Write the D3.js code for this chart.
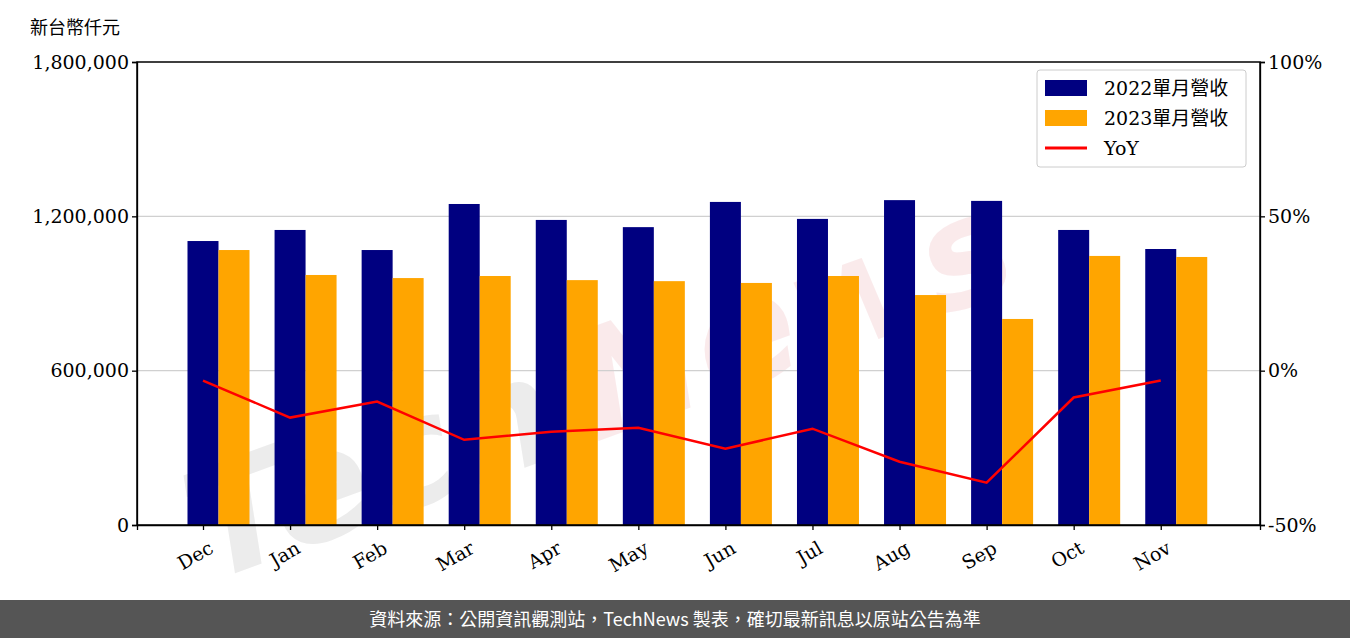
<!DOCTYPE html><html><head><meta charset="utf-8">
<script src="https://cdn.jsdelivr.net/npm/d3@7"></script>
<style>body{margin:0;background:#fff}</style></head><body>
<svg id="c" width="1350" height="638"></svg>
<script>
const months=["Dec","Jan","Feb","Mar","Apr","May","Jun","Jul","Aug","Sep","Oct","Nov"];
const rev2022=[1104000,1147000,1069000,1248000,1186000,1158000,1256000,1190000,1263000,1260000,1147000,1073000];
const rev2023=[1069000,972000,960000,968000,952000,948000,941000,968000,894000,801000,1046000,1042000];
const yoy=[-3.2,-15.2,-10,-22.4,-19.8,-18.5,-25.3,-18.8,-29.5,-36.3,-8.7,-3.2];
const leftTicks=[0,600000,1200000,1800000];
const rightTicks=[-50,0,50,100];
const svg=d3.select("#c");
const L=137,R=1260,T=62,B=525,serif="DejaVu Serif";
const x=d3.scaleLinear().domain([-0.758,12.14]).range([L,R]);
const y=d3.scaleLinear().domain([0,1800000]).range([B,T]);
const y2=d3.scaleLinear().domain([-50,100]).range([B,T]);
// watermark
const wm=svg.append("g").attr("transform","rotate(-20,640,330)").attr("font-family","DejaVu Sans").attr("font-weight","bold").attr("font-style","italic").attr("font-size",150);
wm.append("text").attr("x",150).attr("y",420).attr("fill","#d0d0d0").attr("opacity",0.4).text("Tech");
wm.append("text").attr("x",560).attr("y",420).attr("fill","#f2c4c8").attr("opacity",0.35).text("News");
// grid
svg.append("g").selectAll("line").data([600000,1200000]).join("line")
 .attr("x1",L).attr("x2",R).attr("y1",d=>y(d)).attr("y2",d=>y(d)).attr("stroke","#d0d0d0").attr("stroke-width",1.2);
const bw=31;
svg.append("g").selectAll("rect").data(rev2022).join("rect")
 .attr("x",(d,i)=>x(i)-bw/2).attr("width",bw).attr("y",d=>y(d)).attr("height",d=>B-y(d)).attr("fill","#000080");
svg.append("g").selectAll("rect").data(rev2023).join("rect")
 .attr("x",(d,i)=>x(i)+bw/2).attr("width",bw).attr("y",d=>y(d)).attr("height",d=>B-y(d)).attr("fill","#FFA500");
svg.append("path").datum(yoy).attr("fill","none").attr("stroke","#ff0000").attr("stroke-width",2.5)
 .attr("d",d3.line().x((d,i)=>x(i)).y(d=>y2(d)));
// axes
const fmt=d3.format(",");
const ga=svg.append("g").attr("transform",`translate(${L},0)`).call(d3.axisLeft(y).tickValues(leftTicks).tickFormat(fmt).tickSizeOuter(0).tickSize(5));
const gr=svg.append("g").attr("transform",`translate(${R},0)`).call(d3.axisRight(y2).tickValues(rightTicks).tickFormat(d=>d+"%").tickSizeOuter(0).tickSize(5));
const gb=svg.append("g").attr("transform",`translate(0,${B})`).call(d3.axisBottom(x).tickValues(d3.range(12)).tickFormat(i=>months[i]).tickSizeOuter(0).tickSize(5));
gb.selectAll("text").attr("transform","rotate(-30)").attr("text-anchor","end").attr("dx","-0.2em").attr("dy","1.1em");
[ga,gr,gb].forEach(g=>{g.selectAll("text").attr("font-family",serif).attr("font-size",19).attr("fill","#000");
 g.selectAll("line,path").attr("stroke","#000").attr("stroke-width",1.3);});
svg.append("rect").attr("x",L).attr("y",T).attr("width",R-L).attr("height",B-T).attr("fill","none").attr("stroke","#000").attr("stroke-width",1.5);
svg.append("text").attr("x",30).attr("y",34).attr("font-family","Noto Sans CJK TC").attr("font-size",18).text("新台幣仟元");
// legend
const lg=svg.append("g").attr("transform","translate(1037,70)");
lg.append("rect").attr("width",209).attr("height",97).attr("rx",3).attr("fill","#fff").attr("fill-opacity",0.8).attr("stroke","#ccc");
const items=[["2022單月營收","#000080","bar"],["2023單月營收","#FFA500","bar"],["YoY","#ff0000","line"]];
items.forEach((it,i)=>{const yy=18+i*30;
 if(it[2]=="bar")lg.append("rect").attr("x",8).attr("y",yy-8).attr("width",42).attr("height",16).attr("fill",it[1]);
 else lg.append("line").attr("x1",8).attr("x2",50).attr("y1",yy).attr("y2",yy).attr("stroke",it[1]).attr("stroke-width",3);
 lg.append("text").attr("x",67).attr("y",yy+7).attr("font-family","DejaVu Serif, Noto Sans CJK TC").attr("font-size",19).text(it[0]);});
// footer
svg.append("rect").attr("x",0).attr("y",600).attr("width",1350).attr("height",38).attr("fill","#555");
svg.append("text").attr("x",675).attr("y",626).attr("text-anchor","middle").attr("fill","#fff").attr("font-family","Noto Sans CJK TC").attr("font-size",18)
 .text("資料來源：公開資訊觀測站，TechNews 製表，確切最新訊息以原站公告為準");
</script></body></html>
